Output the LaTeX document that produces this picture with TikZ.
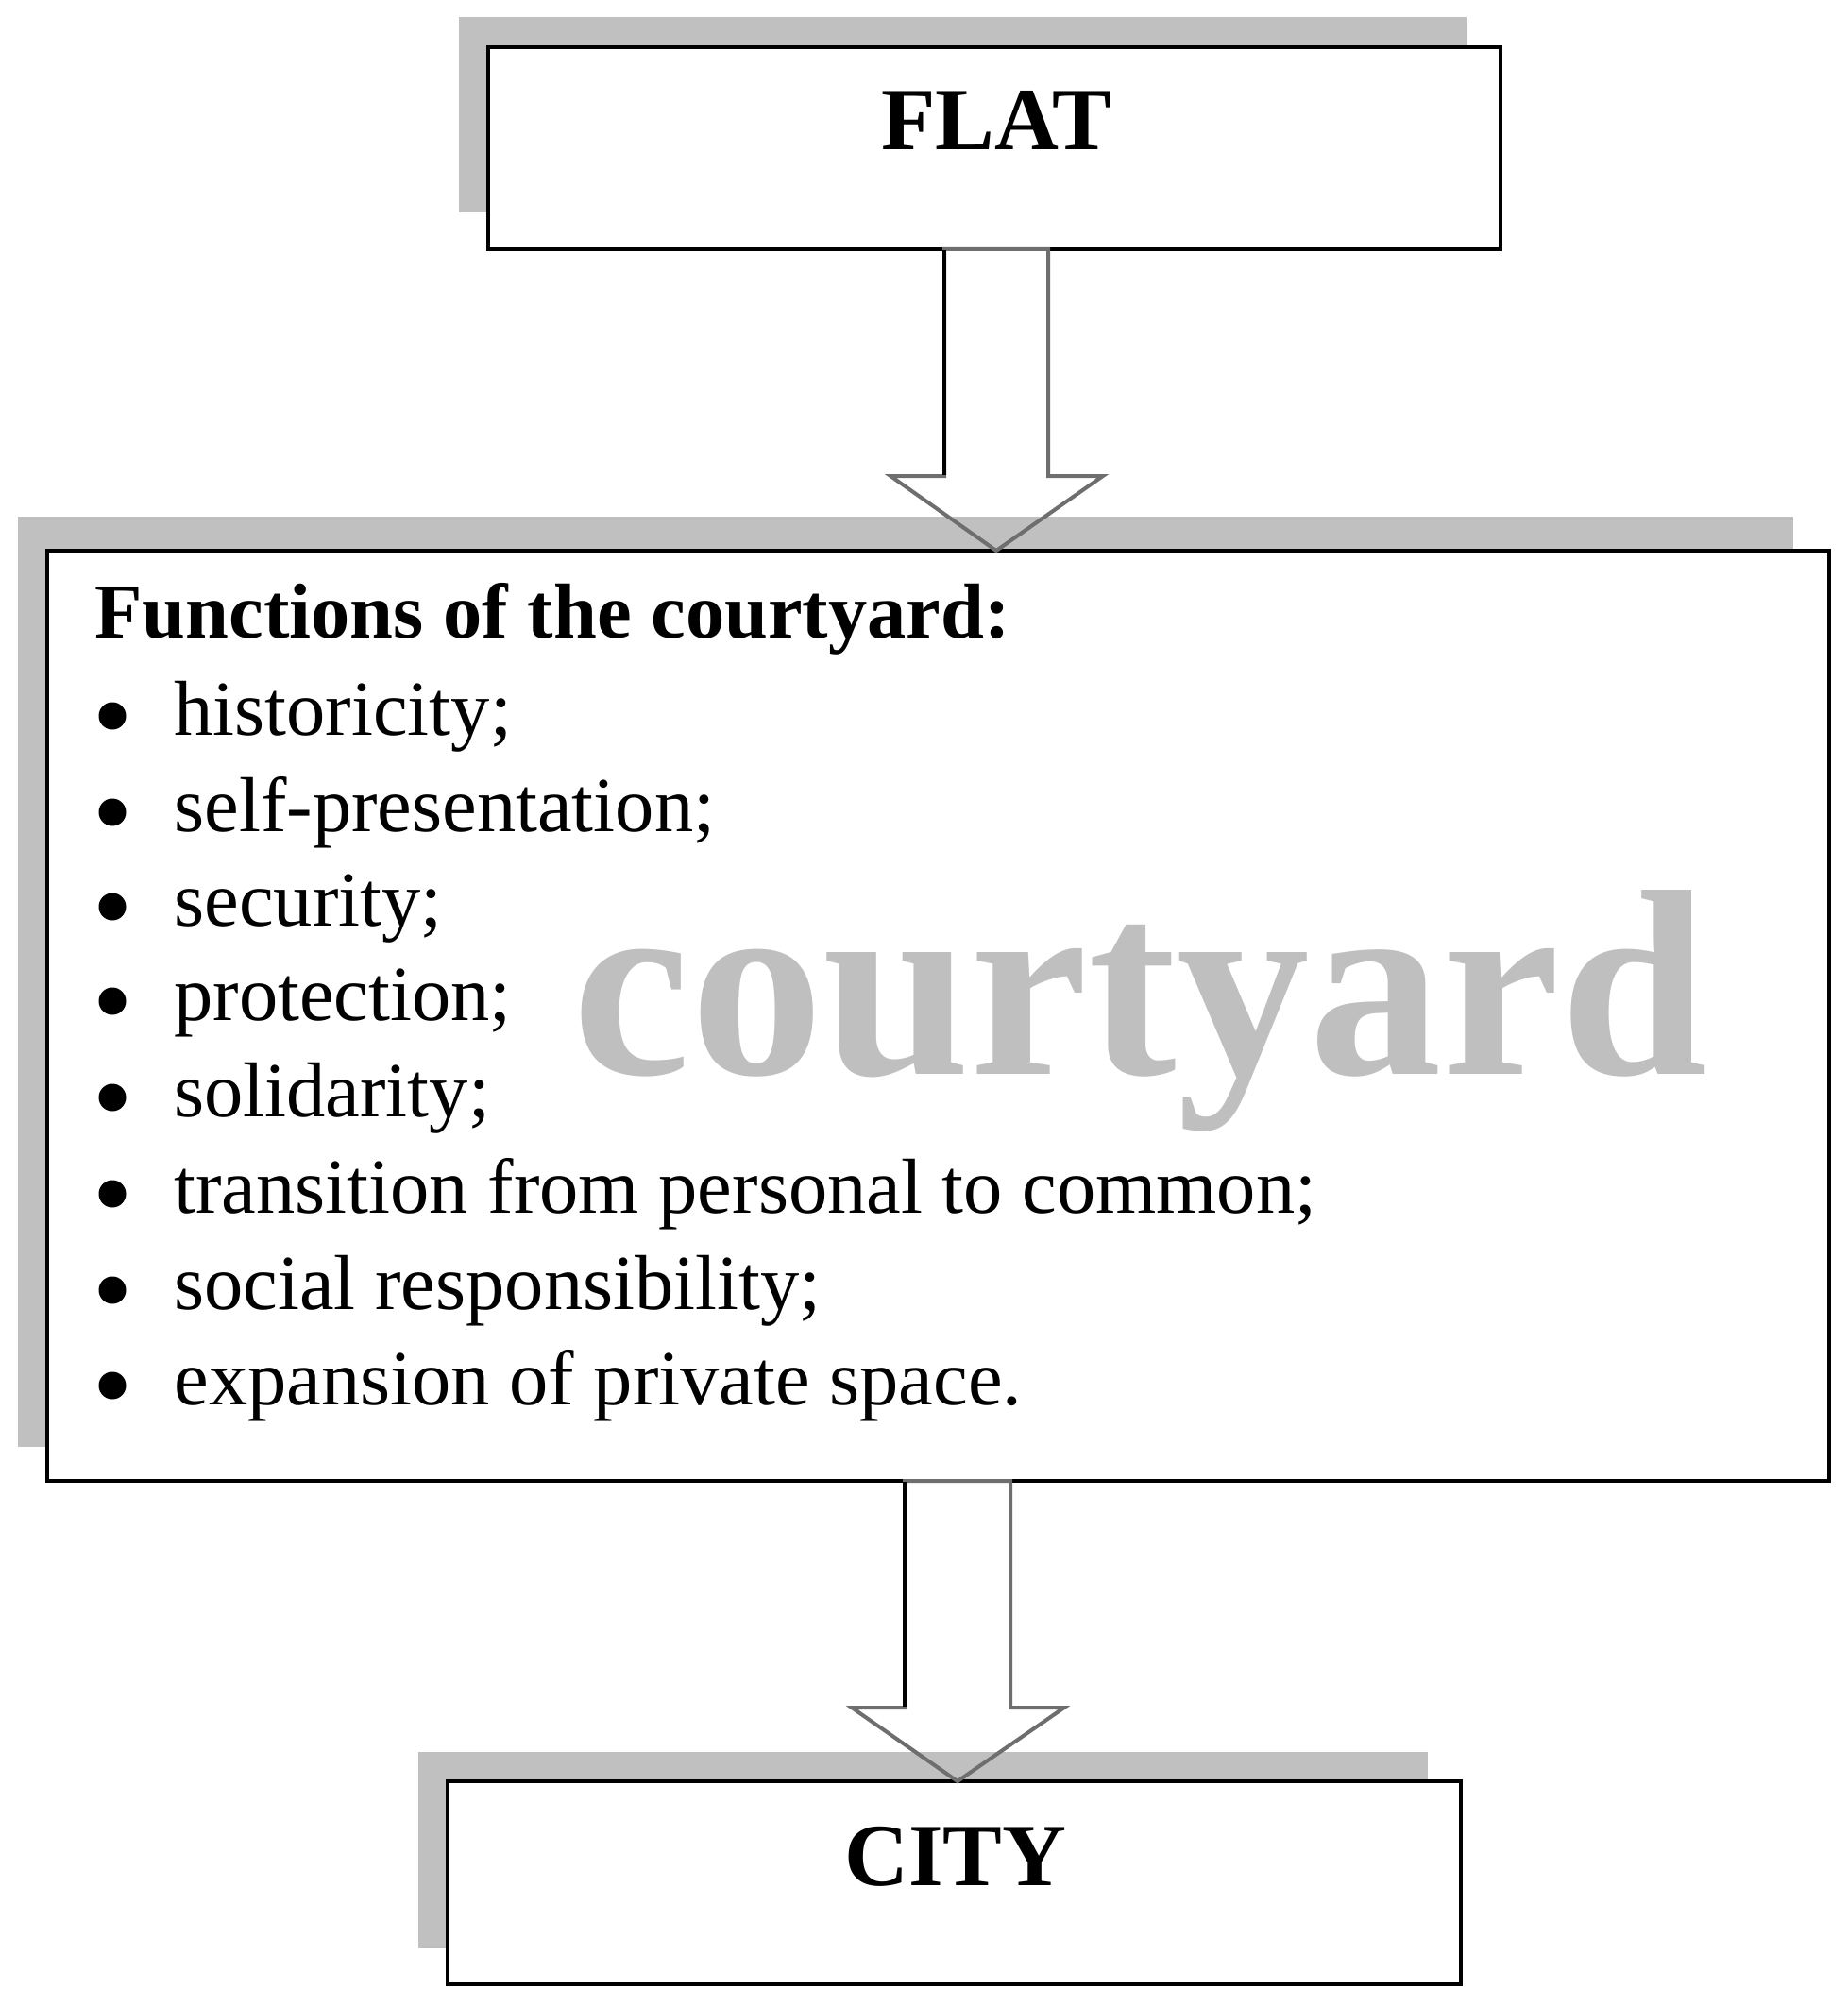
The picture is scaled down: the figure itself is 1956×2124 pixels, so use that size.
\documentclass[tikz,border=0pt]{standalone}
\usepackage{fontspec}
\setmainfont{Liberation Serif}
\usetikzlibrary{calc}
\definecolor{shadowgray}{HTML}{C0C0C0}
\definecolor{markgray}{HTML}{BFBFBF}
\definecolor{arrowgray}{HTML}{6E6E6E}
\tikzset{
  box/.style={draw=black, line width=2pt, fill=white, rectangle, inner sep=0pt, outer sep=0pt},
  shadowbox/.style={fill=shadowgray},
  title/.style={font=\fontsize{47}{56}\selectfont\bfseries, anchor=base, inner sep=0pt},
  heading/.style={font=\fontsize{41.25}{50}\selectfont\bfseries, anchor=base west, inner sep=0pt},
  item/.style={font=\fontsize{41.25}{50}\selectfont, anchor=base west, inner sep=0pt},
  dot/.style={circle, fill=black, inner sep=0pt, minimum size=14.5pt},
  arrowline/.style={draw=arrowgray, line width=2pt, line join=miter},
  markstyle/.style={font=\fontsize{140.5}{160}\selectfont\bfseries, text=markgray, anchor=base west, inner sep=0pt}
}
\begin{document}
\begin{tikzpicture}[x=0.5pt,y=-0.5pt]
\useasboundingbox (0,0) rectangle (1956,2124);
\fill[white] (0,0) rectangle (1956,2124);
% shadows
\fill[shadowbox] (486,18) rectangle (1553,225);
\fill[shadowbox] (19,547) rectangle (1899,1532);
\fill[shadowbox] (443,1855) rectangle (1512,2063);
% boxes
\node[box, minimum width=536pt, minimum height=107pt] (flat) at (1053,157) {};
\node[box, minimum width=943.5pt, minimum height=492.5pt] (main) at (993.5,1075.5) {};
\node[box, minimum width=536.5pt, minimum height=107.5pt] (city) at (1010.5,1993.5) {};
% box texts
\node[title] (flattext) at (1055,158.5) {FLAT};
\node[title] (citytext) at (1012,1996) {CITY};
% watermark
\node[markstyle] (mark) at (606,1137) {courtyard};
% list
\node[heading] (head) at (100,675) {Functions of the courtyard:};
\foreach \y/\t [count=\i] in {778/historicity;, 880/self-presentation;, 980/security;, 1080/protection;, 1182/solidarity;, 1284/transition from personal to common;, 1386/social responsibility;, 1487/expansion of private space.}{
  \node[dot] (b\i) at (119,\y-20) {};
  \node[item] (t\i) at (184,\y) {\t};
}
% arrow 1: flat -> main
\coordinate (a1top) at ($(flat.south)+(2,0)$);
\coordinate (a1tip) at (a1top |- main.north);
\draw[arrowline] ($(a1top)+(-55,0)$) -- ($(a1tip)+(-55,-79)$) -- ($(a1tip)+(-112,-79)$) -- (a1tip) -- ($(a1tip)+(113,-79)$) -- ($(a1tip)+(55,-79)$) -- ($(a1top)+(55,0)$) -- cycle;
\draw[line width=2pt, black] ($(a1top)+(-55,1)$) -- ($(a1tip)+(-55,-80)$);
% arrow 2: main -> city
\coordinate (a2top) at ($(main.south)+(20.5,0)$);
\coordinate (a2tip) at (a2top |- city.north);
\draw[arrowline] ($(a2top)+(-56,0)$) -- ($(a2tip)+(-56,-78)$) -- ($(a2tip)+(-112,-78)$) -- (a2tip) -- ($(a2tip)+(113,-78)$) -- ($(a2tip)+(56,-78)$) -- ($(a2top)+(56,0)$) -- cycle;
\draw[line width=2pt, black] ($(a2top)+(-56,1)$) -- ($(a2tip)+(-56,-79)$);
\end{tikzpicture}
\end{document}
